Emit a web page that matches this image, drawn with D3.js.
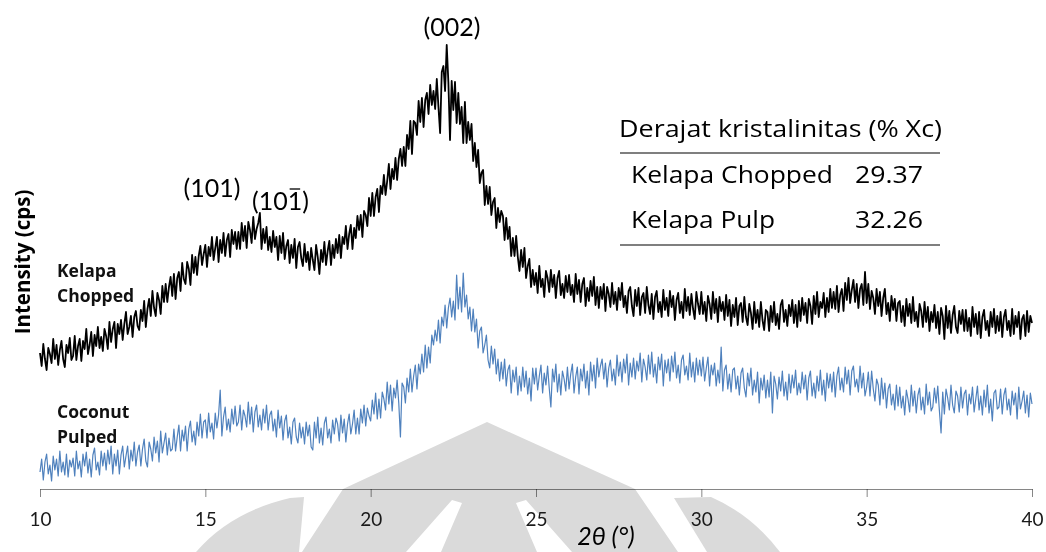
<!DOCTYPE html>
<html>
<head>
<meta charset="utf-8">
<script src="https://cdn.jsdelivr.net/npm/d3@7"></script>
<style>
  html, body { margin: 0; padding: 0; background: #ffffff; }
  svg { display: block; }
  text { font-family: Lato, "Open Sans", "Liberation Sans", sans-serif; }
  text.os { font-family: "Open Sans", "Liberation Sans", sans-serif; }
</style>
</head>
<body>
<svg id="chart" width="1046" height="552"></svg>
<script>
// XRD scan: 2θ from 10° to 40°, one reading every 0.05°
const thetaStart = 10;
const thetaStep = 0.05;

// Kelapa Chopped intensity (cps, offset trace)
const kelapaChopped = [
  136,123,145,130,119,141,135,126,150,130,144,124,139,148,130,122,144,136,151,129,
  133,153,129,143,150,128,148,140,160,135,144,157,133,154,143,162,141,152,138,160,
  153,140,167,147,160,167,141,165,155,169,149,165,177,155,162,173,152,172,178,163,
  159,179,168,188,162,180,190,173,198,181,173,196,189,175,203,187,205,187,202,212,
  193,215,190,211,217,198,226,210,205,227,220,204,234,216,232,214,233,243,224,235,
  244,222,242,233,252,229,241,252,227,249,236,256,233,249,255,232,259,245,257,240,
  257,240,266,248,263,241,267,259,246,272,250,260,266,276,240,260,246,262,239,252,
  237,258,242,252,229,253,236,256,230,243,249,226,244,231,250,221,242,247,231,223,
  245,227,237,219,241,229,219,244,232,215,239,227,247,224,238,248,224,244,231,250,
  236,254,231,252,245,263,240,255,264,240,261,251,273,259,274,252,278,274,263,291,
  273,296,273,292,300,277,303,295,314,294,308,325,300,320,310,331,309,330,340,323,
  342,323,354,340,368,335,368,366,354,388,367,391,362,389,396,375,404,384,398,380,
  410,382,356,417,423,398,444,407,349,408,379,407,366,396,365,382,346,387,346,367,
  349,365,328,346,322,339,306,316,319,284,303,285,302,274,287,291,261,281,267,278,
  273,249,271,250,262,233,251,233,253,232,218,239,222,241,211,223,230,202,219,204,
  216,196,223,202,210,192,218,211,197,219,202,214,191,211,218,194,205,191,213,197,
  214,194,204,187,215,195,209,187,205,211,183,201,188,208,193,212,184,202,181,202,
  190,205,178,202,195,182,206,185,197,179,201,189,206,182,193,176,198,202,183,173,
  199,183,201,174,192,196,176,202,184,175,195,170,192,198,177,187,172,199,179,191,
  173,198,182,193,169,189,196,176,187,171,200,178,192,174,195,180,170,197,185,175,
  197,175,187,168,193,185,170,197,176,190,167,192,178,187,169,194,173,189,163,184,
  172,191,164,183,186,167,192,172,164,185,176,160,187,166,179,162,187,169,159,179,
  177,158,183,167,187,164,175,160,184,189,167,179,163,184,173,189,166,184,162,188,
  168,191,174,186,166,190,183,165,193,175,197,172,187,181,196,172,191,177,200,181,
  197,180,203,177,194,200,178,206,189,211,186,199,209,187,205,181,200,205,184,217,
  186,205,180,198,191,175,200,183,197,173,191,200,175,186,168,193,179,190,168,186,
  188,167,183,163,190,173,185,166,192,168,177,162,185,178,162,187,167,182,158,177,
  167,184,161,177,155,181,173,150,183,161,178,156,174,183,162,156,178,165,179,158,
  179,158,171,153,182,162,175,155,177,151,172,179,159,168,153,177,162,180,156,173,
  158,177,152,172,179,159,168,153,180,155,173,162,177,150,170,174,153,178,157,173,
  166
];

// Coconut Pulped intensity (cps)
const coconutPulped = [
  17,30,9,27,35,15,24,8,33,19,30,13,38,17,27,14,35,12,29,22,
  31,13,38,20,28,12,35,23,37,16,30,12,34,41,19,27,14,38,23,36,
  19,39,25,43,15,35,23,39,15,34,43,22,33,43,20,39,28,47,23,37,
  44,23,40,50,28,22,47,40,28,52,36,48,27,58,36,46,56,34,51,38,
  40,60,38,52,64,38,59,48,63,38,60,68,47,58,44,67,53,75,51,67,
  69,51,76,57,66,50,76,61,74,99,53,72,82,59,70,57,80,65,83,63,
  67,84,59,79,73,62,87,65,82,57,77,84,62,74,59,80,66,84,59,74,
  78,58,70,52,79,61,73,49,68,74,51,62,45,67,71,52,46,66,51,62,
  45,67,53,64,42,39,67,51,72,46,61,44,66,72,51,60,46,69,55,71,
  65,48,74,56,70,47,65,75,55,65,79,55,71,55,80,66,84,63,81,73,
  68,89,75,96,70,90,71,97,90,79,107,85,104,78,101,91,109,86,52,106,
  102,86,111,97,120,97,113,124,100,125,115,135,117,144,121,142,126,154,144,159,
  148,169,146,172,163,184,161,181,191,172,188,169,214,180,202,177,216,182,194,170,
  182,158,180,157,170,141,158,162,136,144,154,129,121,143,125,140,115,130,108,127,
  110,130,103,119,124,96,119,107,122,94,113,98,122,102,118,95,111,88,121,105,
  121,99,113,124,96,116,104,123,101,82,120,107,125,97,115,94,118,110,98,122,
  100,115,125,96,112,122,95,120,108,125,101,118,94,127,108,124,101,131,112,123,
  130,110,126,102,121,129,108,120,104,134,113,127,107,130,116,135,104,126,112,131,
  110,128,118,136,107,130,122,109,134,115,137,112,125,106,132,119,135,103,129,116,
  130,108,133,117,137,111,124,106,129,134,114,123,109,136,112,127,107,131,114,129,
  113,132,108,121,132,103,124,114,126,103,119,106,142,98,119,124,100,115,97,119,
  121,100,113,94,116,121,101,92,116,103,121,94,109,97,117,86,111,99,114,91,
  109,92,117,76,113,105,90,112,98,118,93,107,89,115,96,114,101,119,94,106,
  96,117,100,114,89,111,118,93,106,91,113,98,119,94,109,88,116,101,115,97,
  117,92,113,122,99,111,97,122,105,119,94,118,123,102,110,97,123,101,116,93,
  102,117,93,118,100,88,110,104,84,111,90,106,81,100,105,84,95,79,104,83,
  102,81,93,74,99,90,77,104,83,98,76,94,101,79,92,75,105,84,97,78,
  82,101,86,103,78,56,97,75,100,91,79,104,84,76,98,93,77,102,81,95,
  99,74,95,85,102,77,90,103,79,93,74,99,82,104,76,90,68,96,99,80,
  82,100,75,94,101,79,90,74,98,84,96,70,102,80,88,98,76,94,72,96,
  85
];

const xTicks = [10, 15, 20, 25, 30, 35, 40];
const seriesColors = ["#000000", "#4f81bd"];

// Miller-index peak labels: [label, 2θ, intensity at baseline]
const peakLabels = [
  ["(002)", 22.46, 453],
  ["(101)", 15.2, 292],
  ["(101)", 17.27, 279]
];
// index of the character that carries an overbar (the (10-1) reflection)
const overbarChar = [null, null, 3];

// Crystallinity table
const tableTitle = "Derajat kristalinitas (% Xc)";
const tableNames = ["Kelapa Chopped", "Kelapa Pulp"];
const tableValues = ["29.37", "32.26"];

const svg = d3.select("#chart");

const x = d3.scaleLinear().domain([10, 40]).range([40, 1032]);
const y = d3.scaleLinear().domain([0, 450]).range([489, 39]);

const line = d3.line()
  .x((d, i) => x(thetaStart + i * thetaStep))
  .y(d => y(d));

// faint logo watermark near the bottom (drawn first, axis blends over it)
const wm = svg.append("g").attr("fill", "#dadada");
wm.append("path").attr("fill-rule", "evenodd").attr("d",
  "M487,422 L635,489 L678,552 L302,552 L343,489 Z " +
  "M452,500 L462,503 L441,552 L406,552 Z " +
  "M516,503 L526,500 L572,552 L537,552 Z");
wm.append("path").attr("d", "M674,498 L711,497 Q752,515 780,552 L707,552 Z");
wm.append("path").attr("d", "M196,552 Q230,512 290,498 L304,497 L299,552 Z");

// traces
const traces = [kelapaChopped, coconutPulped];
const widths = [1.8, 1.2];
traces.forEach((vals, k) => {
  svg.append("path")
    .datum(vals)
    .attr("fill", "none")
    .attr("stroke", seriesColors[k])
    .attr("stroke-width", widths[k])
    .attr("stroke-linejoin", "round")
    .attr("d", line);
});

// x axis
const axis = svg.append("g")
  .attr("transform", "translate(0,489)")
  .call(d3.axisBottom(x).tickValues(xTicks).tickSize(8).tickSizeOuter(0).tickPadding(16));
axis.select(".domain").attr("stroke", "#868686").style("mix-blend-mode", "multiply");
axis.selectAll(".tick line").attr("stroke", "#868686").style("mix-blend-mode", "multiply");
axis.selectAll(".tick text")
  .attr("fill", "#1a1a1a")
  .style("font-size", "19px")
  .style("font-family", "Lato, sans-serif");

// axis titles
svg.append("text")
  .attr("x", 606).attr("y", 545)
  .attr("text-anchor", "middle")
  .style("font-size", "25px")
  .style("font-style", "italic")
  .attr("fill", "#000")
  .text("2θ (°)");

svg.append("text")
  .attr("class", "os")
  .attr("transform", "translate(30,262) rotate(-90)")
  .attr("text-anchor", "middle")
  .style("font-size", "20.5px")
  .style("font-weight", "bold")
  .attr("fill", "#000")
  .text("Intensity (cps)");

// series labels beside the traces
const seriesLabelLines = [["Kelapa", "Chopped"], ["Coconut", "Pulped"]];
const seriesLabelTop = [277, 418];
seriesLabelLines.forEach((lines, k) => {
  lines.forEach((t, j) => {
    svg.append("text")
      .attr("class", "os")
      .attr("x", 57).attr("y", seriesLabelTop[k] + j * 25)
      .style("font-size", "17.5px")
      .style("font-weight", "bold")
      .attr("fill", "#111")
      .text(t);
  });
});

// peak labels
peakLabels.forEach((p, k) => {
  const t = svg.append("text")
    .attr("x", x(p[1])).attr("y", y(p[2]))
    .attr("text-anchor", "middle")
    .style("font-size", "25px")
    .attr("fill", "#000")
    .text(p[0]);
  const ci = overbarChar[k];
  if (ci !== null) {
    const node = t.node();
    const s = node.getStartPositionOfChar(ci);
    const e = node.getEndPositionOfChar(ci);
    svg.append("line")
      .attr("x1", s.x + 2).attr("x2", e.x - 2)
      .attr("y1", y(p[2]) - 21).attr("y2", y(p[2]) - 21)
      .attr("stroke", "#000").attr("stroke-width", 1.3);
  }
});

// crystallinity table (text fitted to the column widths)
const table = svg.append("g");
table.append("text")
  .attr("class", "os")
  .attr("x", 619).attr("y", 137)
  .attr("textLength", 323).attr("lengthAdjust", "spacingAndGlyphs")
  .style("font-size", "24px")
  .attr("fill", "#000")
  .text(tableTitle);
table.append("line")
  .attr("x1", 620).attr("x2", 940).attr("y1", 153).attr("y2", 153)
  .attr("stroke", "#555").attr("stroke-width", 1.5);
const nameWidths = [202, 144];
tableNames.forEach((n, i) => {
  table.append("text")
    .attr("class", "os")
    .attr("x", 631).attr("y", 183 + i * 45)
    .attr("textLength", nameWidths[i]).attr("lengthAdjust", "spacingAndGlyphs")
    .style("font-size", "24px")
    .attr("fill", "#000")
    .text(n);
  table.append("text")
    .attr("class", "os")
    .attr("x", 855).attr("y", 183 + i * 45)
    .attr("textLength", 68).attr("lengthAdjust", "spacingAndGlyphs")
    .style("font-size", "24px")
    .attr("fill", "#000")
    .text(tableValues[i]);
});
table.append("line")
  .attr("x1", 620).attr("x2", 940).attr("y1", 245).attr("y2", 245)
  .attr("stroke", "#555").attr("stroke-width", 1.5);
</script>
</body>
</html>
